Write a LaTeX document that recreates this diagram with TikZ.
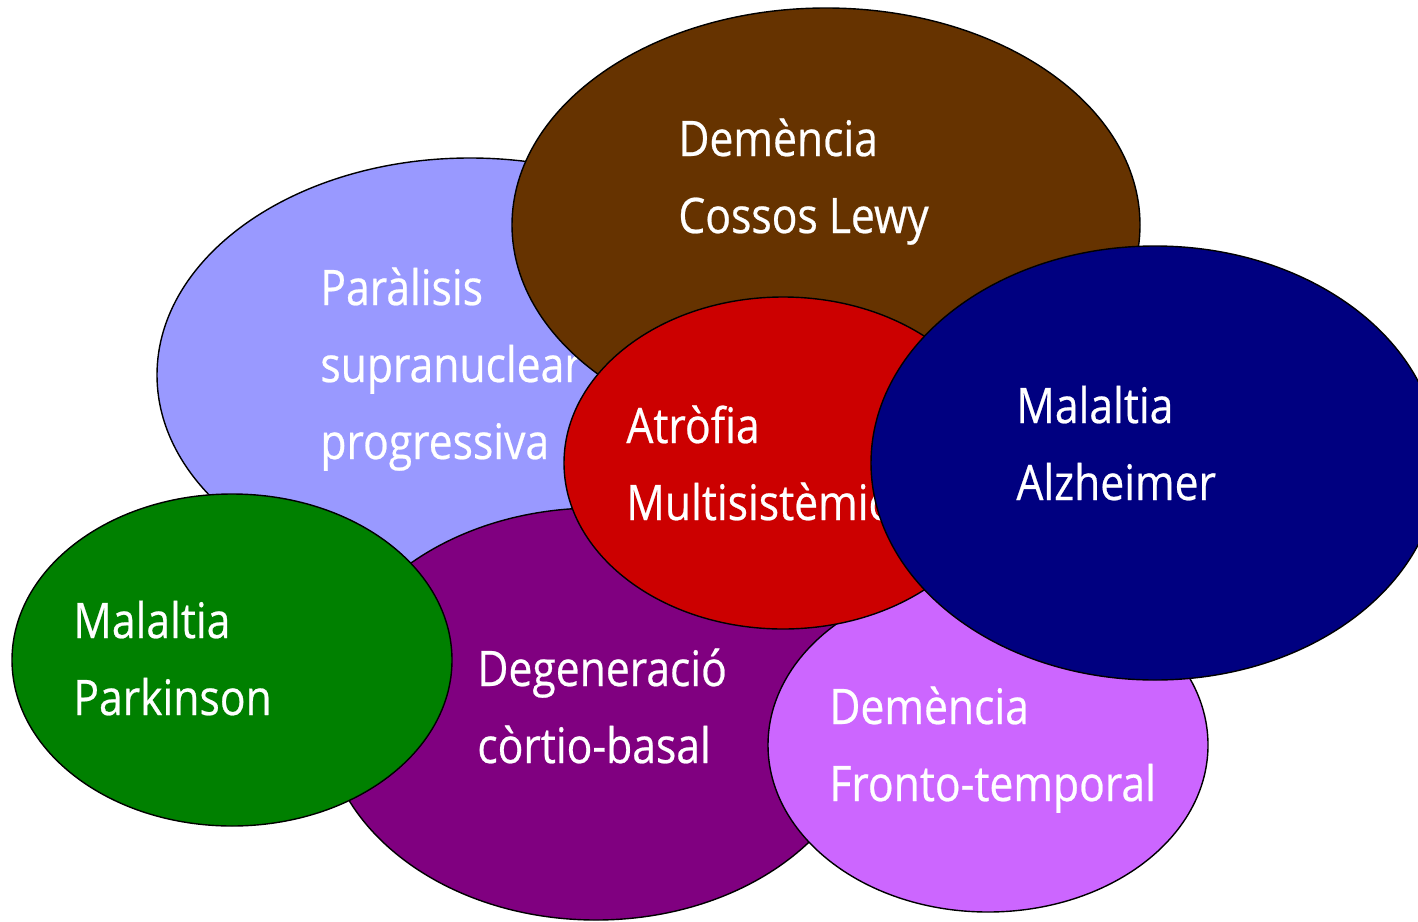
\documentclass[tikz,border=0pt]{standalone}
\usepackage{fontspec}
\setmainfont{Open Sans}[FakeStretch=0.87,FakeBold=0.5]
\definecolor{pspblue}{HTML}{9999FF}
\definecolor{lewybrown}{HTML}{663300}
\definecolor{cbdpurple}{HTML}{800080}
\definecolor{pdgreen}{HTML}{008000}
\definecolor{ftdviolet}{HTML}{CC66FF}
\definecolor{amsred}{HTML}{CC0000}
\definecolor{adnavy}{HTML}{000080}
\tikzset{
    every node/.style={font=\fontsize{24.5}{38.5}\selectfont,text=white,inner sep=0pt},
    blob/.style={draw=black,line width=0.7pt},
    main label/.style={align=left,anchor=base west}
}
\begin{document}
\begin{tikzpicture}[x=0.5pt,y=-0.5pt]
    \clip (0,0) rectangle (1418,921);

    % labels sit on the baseline of their last line
    \filldraw[blob,fill=pspblue] (470,375) ellipse [x radius=313,y radius=217];
    \node[main label] (psp) at (320,459) {Paràlisis\\supranuclear\\progressiva};

    \filldraw[blob,fill=lewybrown] (826,225) ellipse [x radius=314,y radius=217];
    \node[main label] (lewy) at (678,233) {Demència\\Cossos Lewy};

    \filldraw[blob,fill=cbdpurple] (596,714) ellipse [x radius=272,y radius=206];
    \node[main label] (cbd) at (477,763) {Degeneració\\còrtio-basal};

    \filldraw[blob,fill=pdgreen] (232,660) ellipse [x radius=220,y radius=166];
    \node[main label] (pd) at (73,715) {Malaltia\\Parkinson};

    \filldraw[blob,fill=ftdviolet] (988,745) ellipse [x radius=220,y radius=167];
    \node[main label] (ftd) at (829,801) {Demència\\Fronto-temporal};

    \filldraw[blob,fill=amsred] (783,463) ellipse [x radius=219,y radius=166];
    \node[main label] (ams) at (626,520) {Atròfia\\Multisistèmica};

    \filldraw[blob,fill=adnavy] (1155,463) ellipse [x radius=284,y radius=217];
    \node[main label] (ad) at (1016,500) {Malaltia\\Alzheimer};
\end{tikzpicture}
\end{document}
